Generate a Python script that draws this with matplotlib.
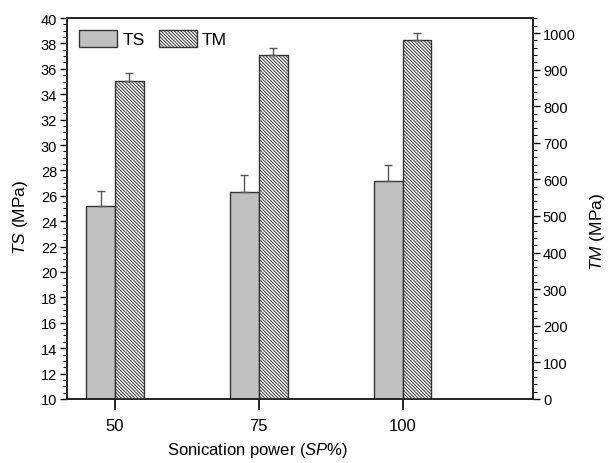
import numpy as np
import matplotlib.pyplot as plt
from matplotlib.ticker import MultipleLocator

power = [50, 75, 100]
ts = [25.2, 26.3, 27.2]
ts_err = [1.2, 1.3, 1.2]
tm = [870, 940, 980]
tm_err = [20, 20, 21]

plt.rcParams["font.family"] = ["Liberation Sans", "DejaVu Sans"]
plt.rcParams["mathtext.fontset"] = "custom"
plt.rcParams["mathtext.rm"] = "Liberation Sans"
plt.rcParams["mathtext.it"] = "Liberation Sans:italic"
plt.rcParams["hatch.linewidth"] = 0.7
plt.rcParams["hatch.color"] = "#333333"

fig = plt.figure(figsize=(6.08, 4.64), dpi=100)
ax = fig.add_axes([0.110, 0.138, 0.767, 0.821])
ax2 = ax.twinx()

x = np.array(power)
w = 5
edge = "#333333"
b1 = ax.bar(x - w / 2, ts, w, color="#c0c0c0", edgecolor=edge, linewidth=1.0,
            yerr=[[0] * 3, ts_err], capsize=3,
            error_kw=dict(ecolor="#555555", elinewidth=1.0, capthick=1.0), label="TS", zorder=2)
b2 = ax2.bar(x + w / 2, tm, w, color="white", edgecolor=edge, linewidth=1.0, hatch="\\" * 10,
             yerr=[[0] * 3, tm_err], capsize=3,
             error_kw=dict(ecolor="#555555", elinewidth=1.0, capthick=1.0), label="TM", zorder=2)

ax.set_xlim(41.65, 122.7)
ax.set_ylim(10, 40)
ax2.set_ylim(0, 1041)
ax.set_xticks(power)
ax.yaxis.set_major_locator(MultipleLocator(2))
ax.yaxis.set_minor_locator(MultipleLocator(0.5))
ax2.yaxis.set_major_locator(MultipleLocator(100))
ax2.yaxis.set_minor_locator(MultipleLocator(20))

for a in (ax, ax2):
    for s in a.spines.values():
        s.set_linewidth(1.2)
        s.set_color("#222222")
ax.tick_params(axis="x", direction="out", length=8, width=1.2, labelsize=12, pad=6)
ax.tick_params(axis="y", which="major", direction="out", length=5, width=1.0, labelsize=10.5, pad=2)
ax.tick_params(axis="y", which="minor", direction="out", length=3, width=0.8)
ax2.tick_params(axis="y", which="major", direction="out", length=5, width=1.0, labelsize=10.5, pad=2)
ax2.tick_params(axis="y", which="minor", direction="out", length=3, width=0.8)

ax.set_xlabel("Sonication power ($\\it{SP}$%)", fontsize=12)
ax.xaxis.set_label_coords(0.41, -0.108)
ax.xaxis.label.set_va("top")
ax.set_ylabel("$\\it{TS}$ (MPa)", fontsize=12.5)
ax.yaxis.set_label_coords(-0.08, 0.48)
ax2.set_ylabel("$\\it{TM}$ (MPa)", fontsize=12.5)
ax2.yaxis.set_label_coords(1.117, 0.44)

ax.legend([b1, b2], ["TS", "TM"], loc="upper left", frameon=False, ncol=2,
          handlelength=2.2, handleheight=1.1, fontsize=12.5, columnspacing=0.8,
          handletextpad=0.3, borderaxespad=0.3)

fig.savefig("out.png", dpi=100)
